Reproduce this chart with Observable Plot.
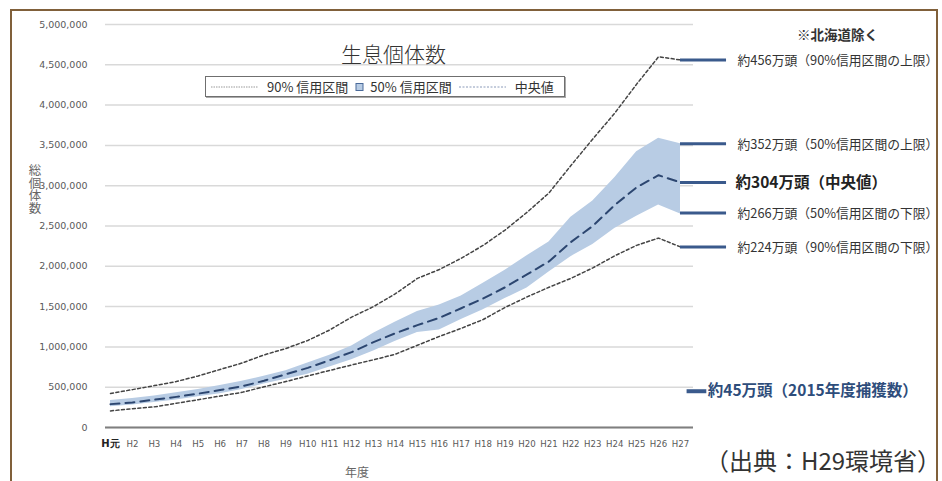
<!DOCTYPE html>
<html><head><meta charset="utf-8">
<script src="https://cdn.jsdelivr.net/npm/d3@7"></script>
<script src="https://cdn.jsdelivr.net/npm/@observablehq/plot@0.6"></script>
<style>
body{margin:0;background:#fff;}
#wrap{position:relative;width:942px;height:481px;overflow:hidden;font-family:"Noto Sans CJK JP",sans-serif;color:#333;}
#chart{position:absolute;left:0;top:0;}
.abs{position:absolute;white-space:nowrap;line-height:1;}
#frame{position:absolute;left:10px;top:9px;width:928px;height:520px;border:2px solid #80603a;box-sizing:border-box;}
#legend{position:absolute;left:205px;top:76px;width:360px;height:21px;border:1px solid #6f6f6f;box-shadow:1px 1px 0 #aaa;background:#fff;box-sizing:border-box;display:flex;align-items:center;font-size:13px;color:#333;white-space:nowrap;}
</style></head><body>
<div id="wrap">
  <div id="chart"></div>
  <div id="frame"></div>
  <div class="abs" style="left:341px;top:43px;font-size:21px;font-weight:300;color:#333;">生息個体数</div>
  <div id="legend">
    <svg width="52" height="10" style="margin-left:4px"><line x1="1" y1="5" x2="48" y2="5" stroke="#999" stroke-width="1" stroke-dasharray="1.5,1"/></svg>
    <span style="margin-left:5px">90% 信用区間</span>
    <svg width="12" height="10" style="margin-left:6px"><rect x="2" y="1.5" width="7" height="7" fill="#b8cce4" stroke="#4a6a9a" stroke-width="1"/></svg>
    <span style="margin-left:4px">50% 信用区間</span>
    <svg width="52" height="10" style="margin-left:6px"><line x1="1" y1="5" x2="48" y2="5" stroke="#8a9ab8" stroke-width="1" stroke-dasharray="2,1.5"/></svg>
    <span style="margin-left:5px">中央値</span>
  </div>
  <div class="abs" style="left:797px;top:28px;font-size:13.5px;font-weight:bold;color:#333;">※北海道除く</div>
  <div class="abs" style="left:28px;top:164px;font-size:12.5px;color:#666;writing-mode:vertical-rl;">総個体数</div>
  <div class="abs" style="left:345px;top:466px;font-size:12px;color:#666;">年度</div>
  <div class="abs" style="left:705px;top:448px;font-size:24px;color:#333;">（出典：H29環境省）</div>
</div>
<script>
const years = ["H元","H2","H3","H4","H5","H6","H7","H8","H9","H10","H11","H12","H13","H14","H15","H16","H17","H18","H19","H20","H21","H22","H23","H24","H25","H26","H27"];
const median = [290,310,345,380,420,465,510,580,660,740,835,935,1060,1170,1270,1360,1480,1600,1740,1900,2060,2300,2500,2760,2980,3130,3040].map(v=>v*1000);
const lower50 = [256,280,310,340,380,420,470,540,600,660,750,840,950,1070,1180,1210,1340,1460,1600,1730,1930,2120,2270,2470,2620,2760,2650].map(v=>v*1000);
const upper50 = [335,360,390,430,470,520,575,635,705,800,895,1010,1170,1310,1440,1520,1630,1790,1950,2130,2300,2610,2810,3100,3420,3590,3520].map(v=>v*1000);
const lower90 = [206,232,256,300,345,390,436,505,570,640,708,776,840,910,1020,1130,1230,1340,1490,1620,1740,1850,1980,2130,2260,2350,2240].map(v=>v*1000);
const upper90 = [422,470,520,570,640,720,800,900,980,1080,1210,1370,1500,1660,1850,1960,2100,2260,2450,2670,2910,3250,3580,3900,4260,4600,4560].map(v=>v*1000);
const yTicks = [0,500000,1000000,1500000,2000000,2500000,3000000,3500000,4000000,4500000,5000000];
const annotValues = [4560000, 3520000, 2660000, 2240000];
const annotLabels = ["約456万頭（90%信用区間の上限）","約352万頭（50%信用区間の上限）","約266万頭（50%信用区間の下限）","約224万頭（90%信用区間の下限）"];
const medianValue = [3040000];
const medianLabel = ["約304万頭（中央値）"];
const catchValue = [450000];
const catchLabel = ["約45万頭（2015年度捕獲数）"];

const data = years.map((y,i)=>({i, year:y, med:median[i], lo50:lower50[i], hi50:upper50[i], lo90:lower90[i], hi90:upper90[i]}));
const last = years.length - 1;
const allAnnot = annotValues.concat(medianValue);

const plot = Plot.plot({
  width: 942, height: 481,
  marginTop: 24, marginBottom: 54, marginLeft: 105, marginRight: 249,
  style: {fontFamily: "DejaVu Sans", background: "transparent", overflow: "visible"},
  x: {type: "linear", domain: [0, last], insetLeft: 5, insetRight: 13},
  y: {domain: [0, 5000000]},
  marks: [
    Plot.gridY(yTicks, {stroke: "#d9d9d9", strokeOpacity: 1, strokeWidth: 1.5}),
    Plot.ruleY([0], {stroke: "#7f7f7f", strokeWidth: 2}),
    Plot.areaY(data, {x: "i", y1: "lo50", y2: "hi50", fill: "#b8cce4", fillOpacity: 1}),
    Plot.lineY(data, {x: "i", y: "hi90", stroke: "#444", strokeWidth: 1.5, strokeDasharray: "3,2.5"}),
    Plot.lineY(data, {x: "i", y: "lo90", stroke: "#444", strokeWidth: 1.5, strokeDasharray: "3,2.5"}),
    Plot.lineY(data, {x: "i", y: "med", stroke: "#2c4670", strokeWidth: 2, strokeDasharray: "9,6"}),
    Plot.axisY({ticks: yTicks, tickFormat: d3.format(","), tickSize: 0, tickPadding: 18, fontSize: 9.5, fill: "#595959", label: null}),
    Plot.axisX({ticks: d3.range(1, years.length), tickFormat: d => years[d], tickSize: 0, tickPadding: 13, fontSize: 8.6, fill: "#595959", label: null}),
    Plot.axisX({ticks: [0], tickFormat: d => years[d], tickSize: 0, tickPadding: 12, fontSize: 10, fontWeight: "bold", fill: "#222", label: null}),
    Plot.ruleY(allAnnot, {x1: last, x2: last + 2.1, stroke: "#3a5a8c", strokeWidth: 3}),
    Plot.ruleY(catchValue, {x1: last + 0.3, x2: last + 1.2, stroke: "#3a5a8c", strokeWidth: 4}),
    Plot.text(annotValues, {x: last + 2.1, y: d => d, dx: 11, dy: 1, text: (d, i) => annotLabels[i], textAnchor: "start", fontSize: 12.8, fill: "#333", fontFamily: "Noto Sans CJK JP"}),
    Plot.text(medianValue, {x: last + 2.1, y: d => d, dx: 9, dy: 1, text: (d, i) => medianLabel[i], textAnchor: "start", fontSize: 15.5, fontWeight: "bold", fill: "#222", fontFamily: "Noto Sans CJK JP"}),
    Plot.text(catchValue, {x: last + 1.2, y: d => d, dx: 1, dy: 0, text: (d, i) => catchLabel[i], textAnchor: "start", fontSize: 15.5, fontWeight: "bold", fill: "#2e4d7b", fontFamily: "Noto Sans CJK JP"})
  ]
});
document.getElementById("chart").appendChild(plot);
</script>
</body></html>
